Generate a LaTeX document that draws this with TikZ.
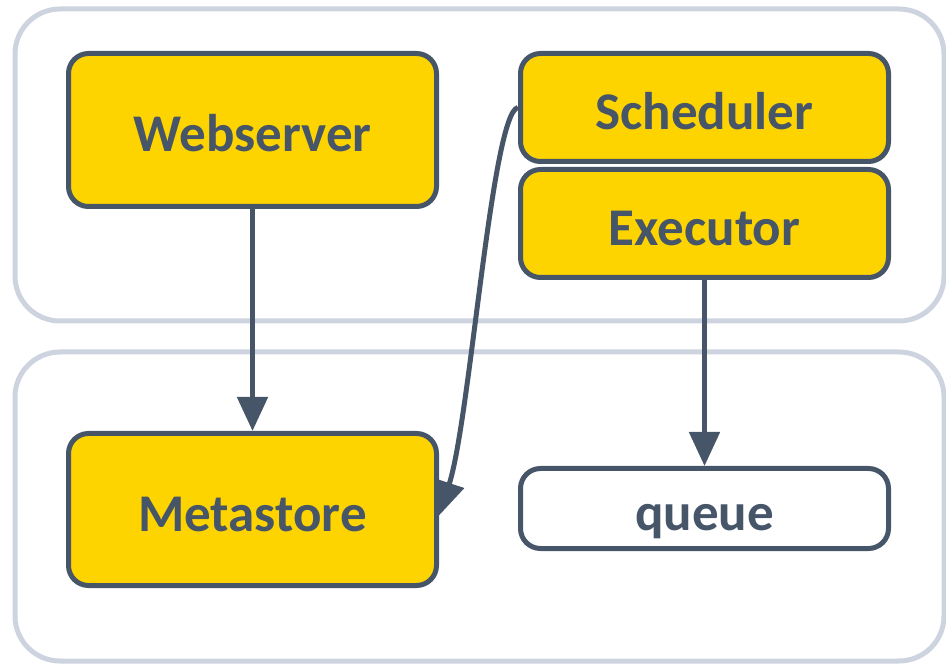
\documentclass[tikz,border=0pt]{standalone}
\usepackage{fontspec}
\setmainfont{Carlito}
\usetikzlibrary{arrows.meta}
\definecolor{slate}{HTML}{465568}
\definecolor{gold}{HTML}{FDD400}
\definecolor{pale}{HTML}{CDD3DF}
\tikzset{
  container/.style={draw=pale, line width=5pt, rounded corners=45pt, inner sep=0pt},
  comp/.style={draw=slate, fill=gold, line width=5pt, rounded corners=20pt, minimum width=368pt, inner sep=0pt, text height=48pt, text depth=4pt, text=slate, font=\fontsize{53}{56}\selectfont\bfseries},
  plain/.style={comp, fill=white},
  link/.style={draw=slate, line width=5pt, -{Triangle[length=34pt,width=30pt]}},
}
\begin{document}
\begin{tikzpicture}[x=1pt,y=-1pt]
\useasboundingbox (0,0) rectangle (946,668);
\node[container, minimum width=929pt, minimum height=312pt] (top) at (479.5,165) {};
\node[container, minimum width=929pt, minimum height=309pt] (bot) at (479.5,506.5) {};
\node[comp, minimum height=153pt] (web) at (252.5,130) {Webserver};
\node[comp, minimum height=108pt] (sched) at (704.5,107.5) {Scheduler};
\node[comp, minimum height=108pt] (exec) at (704.5,223.5) {Executor};
\node[comp, minimum height=152pt] (meta) at (252.5,509.5) {Metastore};
\node[plain, minimum height=80pt] (queue) at (704.5,508.5) {queue};
\draw[link] (web.south) -- (meta.north);
\draw[link] (exec.south) -- (queue.north);
\draw[link] (sched.west) .. controls (492,112) and (470,420) .. ([yshift=-6pt]meta.east);
\end{tikzpicture}
\end{document}
